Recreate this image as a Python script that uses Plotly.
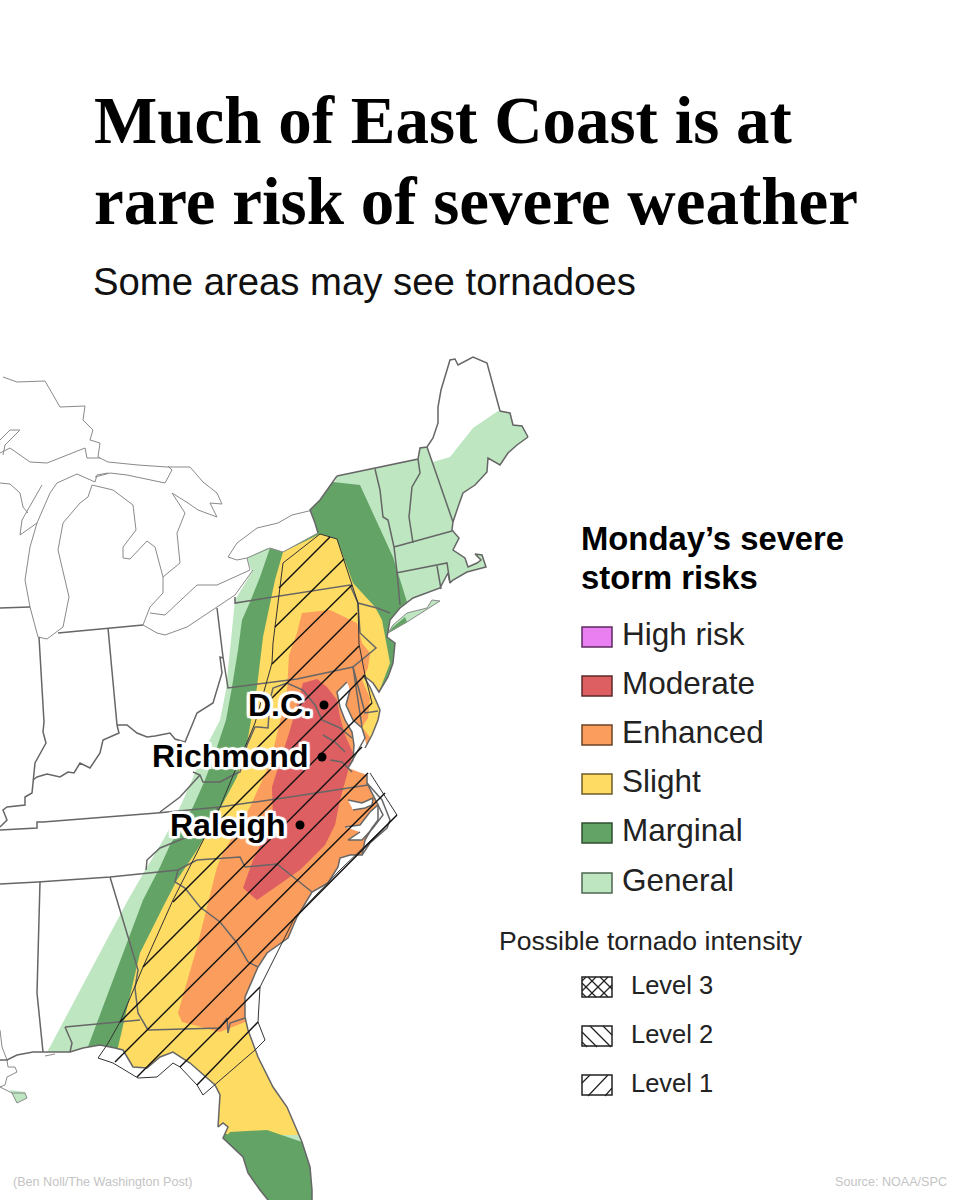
import plotly.graph_objects as go

general_area = [(43,1060),(128,900),(147,867),(165,837),(180,807),(192,780),(203,753),(220,720),(226,690),(230,650),(235,600),
                (252,572),(247,558),(267,548),(283,552),(318,533),(315,523),(310,510),(320,500),(335,482),(337,476),(418,459),
                (420,448),(427,447),(433,462),(450,457),(473,428),(498,411),(510,413),(513,425),(522,426),(528,437),(545,450),
                (545,700),(420,900),(330,1200),(43,1200)]
general_delta = [(10,1090),(25,1092),(27,1098),(17,1103)]
general_island = [(440,601),(432,600),(427,608),(407,613),(393,625),(388,633),(407,622)]
marginal_area = [(83,1060),(143,900),(160,867),(170,845),(193,807),(205,780),(215,753),(226,720),(232,687),(238,650),(242,620),
                 (250,602),(260,577),(270,548),(283,552),(318,533),(315,523),(310,510),(320,500),(333,482),(360,485),(393,557),
                 (407,602),(407,622),(400,700),(400,900),(200,1200),(83,1200)]
marginal_island = [(393,627),(405,617),(407,622),(388,633)]
marginal_florida = [(223,1140),(230,1132),(267,1130),(302,1142),(330,1200),(220,1200)]
slight_area = [(115,1060),(140,953),(163,907),(177,880),(197,850),(207,833),(237,777),(247,743),(257,687),(263,637),(275,580),
               (283,552),(320,534),(337,539),(353,583),(375,607),(382,620),(390,663),(379,692),(395,720),(400,900),(320,1135),
               (230,1135),(115,1100)]
enhanced_area = [(178,1013),(197,947),(217,867),(223,853),(250,807),(270,763),(280,722),(287,690),(289,655),(297,633),(302,613),
                 (330,610),(357,623),(362,643),(370,653),(368,668),(362,680),(370,698),(368,718),(362,727),(395,770),(395,880),
                 (250,1020),(220,1032),(182,1022)]
moderate_area = [(303,683),(317,679),(327,687),(337,700),(340,717),(345,735),(353,753),(347,775),(340,800),(335,825),(325,845),
                 (315,855),(300,870),(257,900),(243,888),(253,860),(273,820),(272,787),(283,753),(290,730)]

coast_north = [(528,437),(517,445),(508,453),(500,465),(488,458),(487,472),(475,485),(463,493),(458,507),(453,522),(452,530),
               (459,538),(453,550),(465,558),(468,567),(477,563),(481,560),(475,554),(482,555),(486,567),(467,572),(453,580),
               (450,583),(448,573),(440,588),(413,598),(400,608),(390,620),(387,637),(395,643),(393,663),(388,677),(379,692),
               (373,683),(363,675),(370,687),(377,703),(380,710),(378,720),(372,735),(365,748)]
coast_south = [(367,775),(367,783),(378,805),(378,820),(372,828),(365,840),(362,855),(350,855),(340,858),(338,867),(328,883),(312,892),
               (297,917),(288,938),(267,953),(258,967),(245,997),(245,1017),(248,1030),(258,1057),(273,1087),(287,1107),
               (302,1142),(310,1167),(312,1190),(312,1200)]
ocean_corners = [(960,1200),(960,340),(528,340)]
gulf_coast = [(268,1200),(260,1190),(248,1173),(243,1157),(223,1138),(228,1127),(223,1123),(218,1127),(220,1095),(215,1085),
              (190,1063),(173,1052),(160,1057),(147,1068),(133,1067),(123,1050),(115,1048),(100,1045),(83,1048),(70,1052),
              (43,1052),(33,1052),(17,1055),(7,1060),(0,1060)]
gulf_corners = [(0,1200)]
chesapeake = [(347,682),(337,692),(340,707),(345,720),(352,732),(354,745),(353,760),(348,768),(367,775),(367,750),(365,738),
              (362,728),(353,720),(346,705),(350,690)]
albemarle = [(348,800),(362,803),(373,798),(372,805),(365,808),(353,810)]
pamlico = [(345,827),(360,825),(370,812),(378,805),(383,815),(373,828),(362,840),(348,840),(360,832)]

state_lines = [
    [(0,608),(30,607)],
    [(39,637),(44,722),(43,732),(46,743),(35,763),(33,787),(32,793),(25,797),(25,805),(7,807),(3,810),(7,820),(0,827)],
    [(58,633),(108,628),(143,625)],
    [(108,628),(117,725)],
    [(117,725),(119,733),(103,740),(100,753),(90,768),(80,763),(74,773),(68,772),(60,777),(47,774),(37,777),(33,780)],
    [(117,725),(127,725),(137,733),(147,737),(155,736),(170,733),(175,739),(185,742),(190,730),(197,713),(213,703),(222,673),(220,657),(223,658)],
    [(217,608),(223,657),(228,688),(297,679),(353,667)],
    [(235,597),(235,603),(350,585),(358,603),(377,608),(390,613)],
    [(358,603),(360,633),(376,648),(362,660),(353,667),(365,713),(378,711)],
    [(337,476),(418,459),(420,448),(427,447),(433,438),(438,423),(438,407),(441,390),(450,360),(455,359),(458,365),(473,357),(487,363),(500,411),(510,413),(513,425),(522,426),(528,437)],
    [(375,469),(380,490),(383,517),(388,520),(394,547),(397,572),(400,605)],
    [(418,459),(420,473),(412,487),(409,517),(413,543)],
    [(394,547),(452,531)],
    [(396,573),(437,565),(447,563),(450,583)],
    [(437,566),(441,589)],
    [(427,447),(453,522)],
    [(337,476),(320,500),(310,510),(315,523),(318,533)],
    [(0,830),(37,828),(37,822),(43,822),(157,813),(220,807),(290,797),(368,785)],
    [(193,772),(200,775),(203,782),(220,782),(233,775),(240,772),(247,745),(255,727),(258,727),(268,728),(270,700),(273,688),(287,683),(303,690),(315,705),(322,720),(340,728),(352,738)],
    [(200,775),(180,797),(160,812)],
    [(0,884),(38,882),(110,877),(178,870),(197,860),(240,857),(245,867),(277,864),(312,892)],
    [(146,870),(147,860),(160,848),(175,842),(200,832),(218,808)],
    [(178,870),(175,882),(185,888),(200,907),(220,922),(237,943),(248,962),(258,967)],
    [(40,882),(37,993),(43,1052)],
    [(110,877),(138,970),(135,988),(138,1013),(148,1030)],
    [(65,1027),(140,1020)],
    [(65,1027),(72,1043),(70,1052)],
    [(148,1030),(220,1028),(227,1018),(228,1033),(230,1023),(245,1018)],
    [(323,735),(335,742),(345,752)],
    [(330,760),(342,762),(352,772)],
    [(353,667),(362,727)],
    [(367,783),(382,800),(390,820),(387,828),(370,843),(362,855)],
]
lake_lines = [
    [(3,377),(17,382),(45,381),(60,407),(85,406),(83,420),(93,430),(90,440),(100,443),(98,457),(108,462),(138,465),(167,467),(190,467),(203,482),(217,493),(222,504),(210,503),(217,517),(198,510),(188,503),(172,493),(185,513),(177,533),(180,563),(163,577),(163,593),(150,607),(143,625)],
    [(0,453),(10,448),(30,462),(47,463),(85,448),(87,458),(100,458)],
    [(0,440),(10,430),(20,430),(5,445),(3,455)],
    [(108,473),(97,475),(95,482),(77,474),(57,483),(50,493),(37,523),(20,535),(22,520),(42,485)],
    [(37,523),(30,547),(25,580),(30,607),(38,637),(47,639),(63,627),(69,597),(58,550),(63,523),(80,503),(88,497),(92,485),(113,490),(133,505),(136,530),(123,547),(123,558),(130,559),(147,541),(155,547),(163,577)],
    [(0,483),(10,484),(20,493),(23,507),(28,513)],
    [(95,477),(110,473),(127,475),(165,483),(172,470),(168,466)],
    [(150,613),(165,615),(197,585),(217,585),(250,570),(247,558)],
    [(143,625),(157,633),(165,635),(187,627),(235,595),(253,570)],
    [(313,510),(292,515),(278,523),(257,528),(237,543),(228,557),(237,560),(247,558),(270,548),(283,552),(318,533)],
    [(0,1030),(2,1047),(7,1060),(8,1067),(15,1067),(17,1072),(7,1077),(5,1085),(0,1087)],
    [(0,1087),(12,1093),(25,1093),(27,1098),(17,1103),(12,1093)],
    [(440,601),(432,600),(427,608),(407,613),(393,625),(388,633),(407,622),(440,601)],
    [(45,1056),(55,1054)],
]

hatch_outline = [(397,815),(340,870),(295,917),(260,987),(258,1022),(265,1040),(255,1050),(215,1085),(203,1095),(197,1085),(180,1067),
                 (173,1063),(157,1077),(138,1078),(113,1063),(98,1058),(107,1045),(120,1022),(143,967),(173,900),(220,807),(255,723),
                 (272,663),(273,643),(283,563),(320,534),(337,539),(358,603),(359,644),(365,675),(372,703)]
hatch_corner = [(370,773),(397,815)]
hatch_starts = [(279,588),(275,627),(272,664),(262,708),(253,752),(207,833),(173,902),(143,967),(120,1022),(115,1062),(137,1077),(180,1067),(197,1085)]
hatch_ends = [(330,537),(344,559),(352,585),(357,613),(359,646),(365,675),(372,703),(362,747),(368,773),(385,793),(397,815),(260,987),(258,1022)]

cities = ["D.C.", "Richmond", "Raleigh"]
city_x = [324, 322, 300]
city_y = [705, 757, 825]

risk_names = ["High risk", "Moderate", "Enhanced", "Slight", "Marginal", "General"]
risk_colors = ["#e97ff1", "#dd5f62", "#fb9d5d", "#fedb63", "#63a466", "#bde6c1"]
risk_edges = ["#5c2a60", "#5c2a2a", "#6b4326", "#6b5c2a", "#2f4f30", "#4e6650"]
risk_top = [627, 676, 725, 774, 823, 873]
level_names = ["Level 3", "Level 2", "Level 1"]
level_top = [977, 1026, 1075]
level3_marks = [((582,983),(596,997)),((588,977),(608,997)),((600,977),(612,989)),((582,993),(586,997)),
                ((582,991),(596,977)),((588,997),(608,977)),((600,997),(612,985)),((582,981),(586,977))]
level2_marks = [((582,1032),(597,1047)),((590,1026),(611,1047)),((603,1026),(612,1035)),((582,1042),(587,1047))]
level1_marks = [((582,1083),(590,1075)),((588,1096),(608,1075)),((605,1096),(612,1088))]

SANS = "Liberation Sans"
SERIF = "Liberation Serif"
HALO = ",".join(f"{a}px {b}px 1px #fff" for a, b in
                [(-3,0),(3,0),(0,-3),(0,3),(-2,-2),(2,-2),(-2,2),(2,2),(-3,-2),(3,2),(-3,2),(3,-2)])

fig = go.Figure()


def fill(points, color):
    fig.add_trace(go.Scatter(x=[p[0] for p in points], y=[p[1] for p in points], mode="lines", fill="toself",
                             fillcolor=color, line=dict(width=0), hoverinfo="skip", showlegend=False))


def lines(paths, color, width):
    xs, ys = [], []
    for path in paths:
        xs += [p[0] for p in path] + [None]
        ys += [p[1] for p in path] + [None]
    fig.add_trace(go.Scatter(x=xs, y=ys, mode="lines", line=dict(color=color, width=width), hoverinfo="skip", showlegend=False))


def text(x, y, s, size, family=SANS, color="#111", anchor="left", bold=False, shadow=None):
    fig.add_annotation(x=x, y=y, text=s, showarrow=False, xanchor=anchor, yanchor="middle", xref="x", yref="y",
                       font=dict(family=family, size=size, color=color, weight=700 if bold else 400, shadow=shadow or "none"))


# risk areas, painted from the outside in, then the water on top
fill(general_area, risk_colors[5])
fill(marginal_area, risk_colors[4])
fill(slight_area, risk_colors[3])
fill(enhanced_area, risk_colors[2])
fill(moderate_area, risk_colors[1])
fill(marginal_florida, risk_colors[4])
fill(coast_north + coast_south + ocean_corners, "#ffffff")
fill(gulf_coast + gulf_corners, "#ffffff")
fill(chesapeake, "#ffffff")
fill(albemarle, "#ffffff")
fill(pamlico, "#ffffff")
fill(general_island, risk_colors[5])
fill(marginal_island, risk_colors[4])
fill(general_delta, risk_colors[5])

lines(lake_lines, "#8a8a8a", 1)
lines(state_lines + [coast_north, coast_south, gulf_coast, chesapeake[:8] + chesapeake[10:], albemarle, pamlico], "#666666", 1.5)
lines([hatch_outline, hatch_corner], "#333333", 1)
lines([list(pair) for pair in zip(hatch_starts, hatch_ends)], "#111111", 1.4)

fig.add_trace(go.Scatter(x=city_x, y=city_y, mode="markers", marker=dict(color="#000", size=9), hoverinfo="skip", showlegend=False))
text(314, 705, cities[0], 32, anchor="right", bold=True, shadow=HALO, color="#000")
text(310, 756, cities[1], 32, anchor="right", bold=True, shadow=HALO, color="#000")
text(288, 825, cities[2], 32, anchor="right", bold=True, shadow=HALO, color="#000")

# legend swatches
for i, name in enumerate(risk_names):
    fig.add_shape(type="rect", x0=582, x1=612, y0=risk_top[i], y1=risk_top[i] + 20, xref="x", yref="y",
                  fillcolor=risk_colors[i], line=dict(color=risk_edges[i], width=1.5))
    text(620, risk_top[i] + 7, name, 31.5, color="#222")
for i, name in enumerate(level_names):
    fig.add_shape(type="rect", x0=582, x1=612, y0=level_top[i], y1=level_top[i] + 20, xref="x", yref="y",
                  fillcolor="rgba(0,0,0,0)", line=dict(color="#222", width=1.5))
    text(629, level_top[i] + 8, name, 25.5, color="#222")
lines([list(m) for m in level3_marks + level2_marks + level1_marks], "#222222", 1.2)

text(92, 119.5, "Much of East Coast is at", 67, family=SERIF, bold=True, color="#000")
text(92, 200.5, "rare risk of severe weather", 67, family=SERIF, bold=True, color="#000")
text(91, 281, "Some areas may see tornadoes", 38.3, color="#111")
text(579, 538, "Monday’s severe", 32.8, bold=True, color="#000")
text(579, 577, "storm risks", 32.8, bold=True, color="#000")
text(497, 941, "Possible tornado intensity", 26.6, color="#222")
text(11, 1182, "(Ben Noll/The Washington Post)", 12.6, color="#c4c4c4")
text(949, 1182, "Source: NOAA/SPC", 12.6, color="#c4c4c4", anchor="right")

fig.update_layout(width=960, height=1200, margin=dict(l=0, r=0, t=0, b=0), plot_bgcolor="#fff", paper_bgcolor="#fff",
                  showlegend=False, xaxis=dict(range=[0, 960], visible=False), yaxis=dict(range=[1200, 0], visible=False))
fig.write_html("out.html", config={"displayModeBar": False}, post_script="document.body.style.margin='0'")
